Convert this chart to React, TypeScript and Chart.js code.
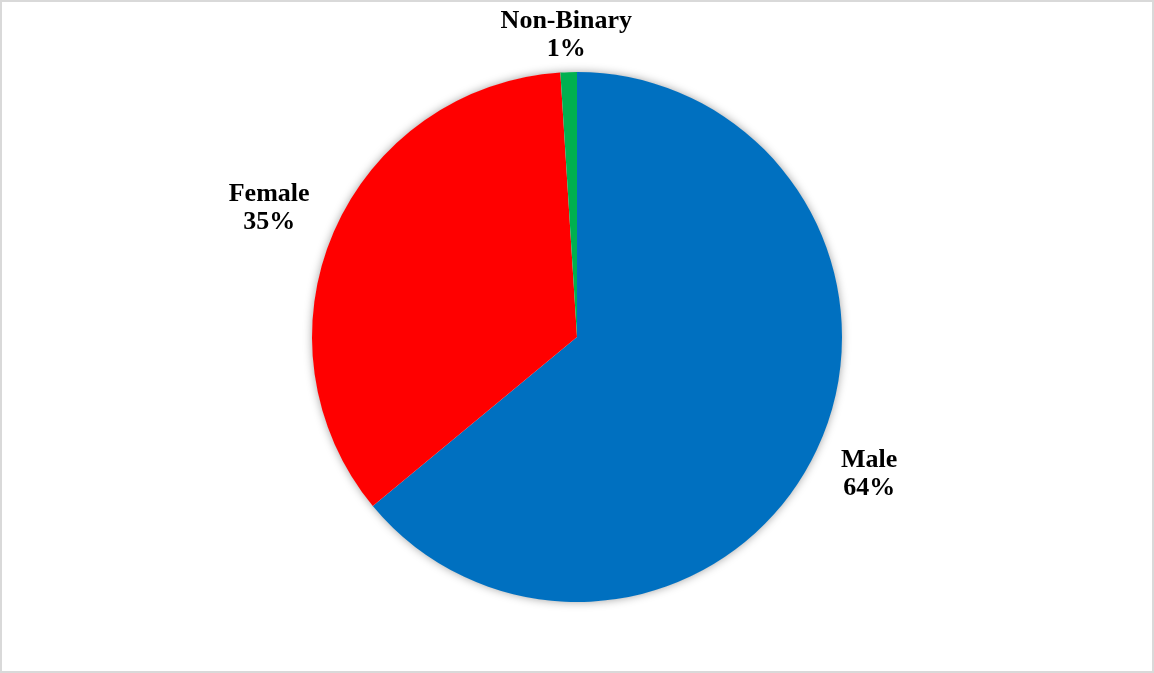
import React, { useEffect, useRef } from "react";
import { Chart, registerables } from "chart.js";

Chart.register(...registerables);

const categories = ["Male", "Female", "Non-Binary"];
const values = [64, 35, 1];
const percentLabels = ["64%", "35%", "1%"];
const colors = ["#0070C0", "#FF0000", "#00B050"];

const FONT = "bold 26px 'Liberation Serif', 'Times New Roman', serif";
const LINE_H = 28;

const framePlugin = {
  id: "frame",
  beforeDraw(chart: any) {
    const ctx = chart.ctx;
    ctx.save();
    ctx.fillStyle = "#ffffff";
    ctx.fillRect(0, 0, chart.width, chart.height);
    ctx.strokeStyle = "#d9d9d9";
    ctx.lineWidth = 2;
    ctx.strokeRect(1, 1, chart.width - 2, chart.height - 2);
    ctx.restore();
  },
  beforeDatasetsDraw(chart: any) {
    const meta = chart.getDatasetMeta(0);
    const arc = meta.data[0];
    if (!arc) return;
    const ctx = chart.ctx;
    ctx.save();
    ctx.shadowColor = "rgba(0,0,0,0.4)";
    ctx.shadowBlur = 10;
    ctx.shadowOffsetX = 0;
    ctx.shadowOffsetY = 0;
    ctx.fillStyle = "#ffffff";
    ctx.beginPath();
    ctx.arc(arc.x, arc.y, arc.outerRadius - 0.5, 0, Math.PI * 2);
    ctx.fill();
    ctx.restore();
  },
};

const labelPlugin = {
  id: "outLabels",
  afterDatasetsDraw(chart: any) {
    const meta = chart.getDatasetMeta(0);
    const ctx = chart.ctx;
    ctx.save();
    ctx.font = FONT;
    ctx.fillStyle = "#000000";
    ctx.textAlign = "center";
    ctx.textBaseline = "middle";
    meta.data.forEach((arc: any, i: number) => {
      const mid = (arc.startAngle + arc.endAngle) / 2;
      const dx = Math.cos(mid);
      const dy = Math.sin(mid);
      const lines = [categories[i], percentLabels[i]];
      const w = Math.max(...lines.map((l) => ctx.measureText(l).width));
      const h = LINE_H * lines.length;
      const gap = 8 + 24 * Math.abs(dx);
      const d = arc.outerRadius + gap;
      const cx = arc.x + dx * d + (w / 2) * dx;
      const cy = arc.y + dy * d + (h / 2) * dy;
      lines.forEach((l, j) => {
        ctx.fillText(l, cx, cy + (j - (lines.length - 1) / 2) * LINE_H);
      });
    });
    ctx.restore();
  },
};

export default function App() {
  const ref = useRef<HTMLCanvasElement | null>(null);
  useEffect(() => {
    if (!ref.current) return;
    const chart = new Chart(ref.current, {
      type: "pie",
      data: {
        labels: categories,
        datasets: [
          {
            data: values,
            backgroundColor: colors,
            borderWidth: 0,
          },
        ],
      },
      options: {
        animation: false,
        responsive: false,
        maintainAspectRatio: false,
        radius: 265,
        layout: { padding: { top: 1, bottom: 0 } },
        plugins: {
          legend: { display: false },
          tooltip: { enabled: false },
          title: { display: false },
        },
      } as any,
      plugins: [framePlugin, labelPlugin],
    });
    return () => chart.destroy();
  }, []);
  return (
    <div style={{ position: "absolute", left: 0, top: 0, width: 1154, height: 673 }}>
      <canvas ref={ref} width={1154} height={673} style={{ display: "block" }} />
    </div>
  );
}
